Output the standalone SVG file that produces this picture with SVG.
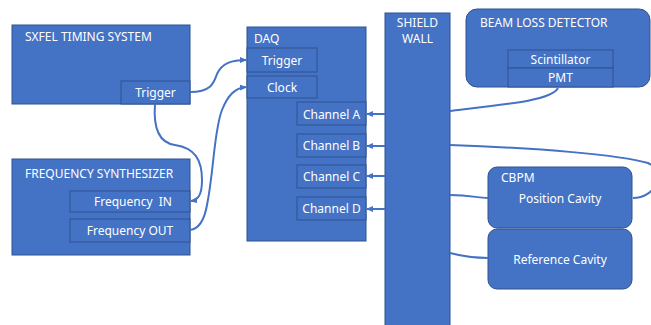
<svg xmlns="http://www.w3.org/2000/svg" width="651" height="325" viewBox="0 0 651 325">
<defs>
<marker id="ah" markerWidth="8" markerHeight="8" refX="6" refY="4" orient="auto" markerUnits="userSpaceOnUse">
<path d="M0,1 L7,4 L0,7 Z" fill="#4472C4"/>
</marker>
<style>
.box{fill:#4472C4;stroke:#2F528F;stroke-width:1}
.t{font-family:"Noto Sans","Liberation Sans",sans-serif;font-size:12px;fill:#FFFFFF;white-space:pre}
.c{text-anchor:middle}
.ln{fill:none;stroke:#4472C4;stroke-width:2}
</style>
</defs>
<rect width="651" height="325" fill="#FFFFFF"/>
<g id="sxfel">
<rect class="box" x="12" y="25" width="178" height="79"/>
<text class="t" x="25" y="41">SXFEL TIMING SYSTEM</text>
<rect class="box" x="121" y="81" width="69" height="23"/>
<text class="t c" x="155.5" y="97">Trigger</text>
</g>
<g id="synth">
<rect class="box" x="12" y="159" width="178" height="96"/>
<text class="t" x="25" y="178">FREQUENCY SYNTHESIZER</text>
<rect class="box" x="70" y="191" width="120" height="21"/>
<text class="t c" x="133" y="206" xml:space="preserve">Frequency  IN</text>
<rect class="box" x="70" y="219" width="120" height="23"/>
<text class="t c" x="130" y="235">Frequency OUT</text>
</g>
<g id="daq">
<rect class="box" x="247" y="27" width="119" height="214"/>
<text class="t" x="254" y="43">DAQ</text>
<rect class="box" x="247" y="48" width="70" height="24"/>
<text class="t c" x="282" y="65">Trigger</text>
<rect class="box" x="247" y="76" width="70" height="22"/>
<text class="t c" x="282" y="92">Clock</text>
<rect class="box" x="297" y="102" width="69" height="23"/>
<text class="t c" x="331.5" y="119">Channel A</text>
<rect class="box" x="297" y="134" width="69" height="23"/>
<text class="t c" x="331.5" y="150">Channel B</text>
<rect class="box" x="297" y="165" width="69" height="23"/>
<text class="t c" x="331.5" y="181">Channel C</text>
<rect class="box" x="297" y="197" width="69" height="23"/>
<text class="t c" x="331.5" y="213">Channel D</text>
</g>
<g id="shield">
<rect class="box" x="385" y="13" width="65" height="314"/>
<text class="t c" x="417.5" y="27">SHIELD</text>
<text class="t c" x="417.5" y="43">WALL</text>
</g>
<g id="bld">
<rect class="box" x="466" y="9" width="184" height="78" rx="11"/>
<text class="t" x="480" y="27">BEAM LOSS DETECTOR</text>
<rect class="box" x="508" y="50" width="105" height="18"/>
<text class="t c" x="560.5" y="64">Scintillator</text>
<rect class="box" x="508" y="68" width="105" height="19"/>
<text class="t c" x="560.5" y="82">PMT</text>
</g>
<g id="cbpm">
<rect class="box" x="488" y="167" width="144" height="61" rx="9"/>
<text class="t" x="501" y="182">CBPM</text>
<text class="t c" x="560" y="203">Position Cavity</text>
</g>
<g id="refcav">
<rect class="box" x="488" y="229" width="144" height="60" rx="9"/>
<text class="t c" x="560" y="264">Reference Cavity</text>
</g>
<g id="connectors">
<path class="ln" marker-end="url(#ah)" d="M190,92 C212,92 214,82 217,74 C222,63 232,60 246,60"/>
<path class="ln" marker-end="url(#ah)" d="M155,104 C153,130 160,143 175,145 C195,148 202,160 202,180 C202,195 198,200 191,201"/>
<path class="ln" marker-end="url(#ah)" d="M190,230 C198,229 204,222 207,205 C214,170 214,130 222,110 C228,95 235,88 246,87"/>
<path class="ln" d="M450,111 C510,104 552,100 558,88"/>
<path class="ln" d="M450,145 C540,148 620,155 648,163 C668,172 655,198 633,198"/>
<path class="ln" d="M450,195 C470,195 478,198 488,198"/>
<path class="ln" d="M450,253 C465,257 475,258 488,258"/>
<path class="ln" marker-end="url(#ah)" d="M385,114 L367,114"/>
<path class="ln" marker-end="url(#ah)" d="M385,146 L367,146"/>
<path class="ln" marker-end="url(#ah)" d="M385,176 L367,176"/>
<path class="ln" marker-end="url(#ah)" d="M385,209 L367,209"/>
</g>
</svg>
